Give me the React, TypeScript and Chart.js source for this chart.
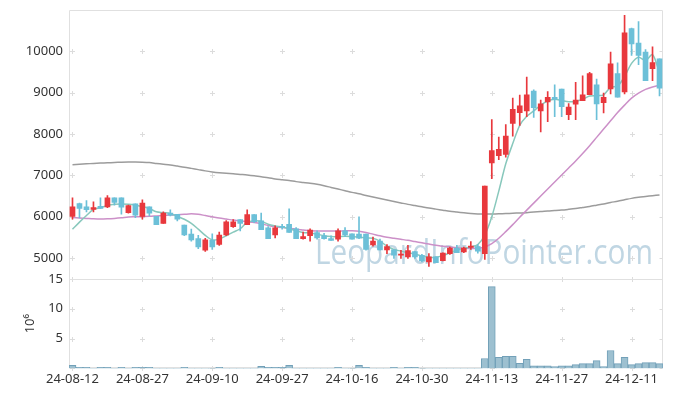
import React, { useEffect, useRef } from 'react';
import { Chart, registerables } from 'chart.js';

Chart.register(...registerables);

const dates = [
  '24-08-12','24-08-13','24-08-14','24-08-16','24-08-19','24-08-20','24-08-21','24-08-22','24-08-23','24-08-26',
  '24-08-27','24-08-28','24-08-29','24-08-30','24-09-02','24-09-03','24-09-04','24-09-05','24-09-06','24-09-09',
  '24-09-10','24-09-11','24-09-12','24-09-13','24-09-19','24-09-20','24-09-23','24-09-24','24-09-25','24-09-26',
  '24-09-27','24-09-30','24-10-02','24-10-04','24-10-07','24-10-08','24-10-10','24-10-11','24-10-14','24-10-15',
  '24-10-16','24-10-17','24-10-18','24-10-21','24-10-22','24-10-23','24-10-24','24-10-25','24-10-28','24-10-29',
  '24-10-30','24-10-31','24-11-01','24-11-04','24-11-05','24-11-06','24-11-07','24-11-08','24-11-11','24-11-12',
  '24-11-13','24-11-14','24-11-15','24-11-18','24-11-19','24-11-20','24-11-21','24-11-22','24-11-25','24-11-26',
  '24-11-27','24-11-28','24-11-29','24-12-02','24-12-03','24-12-04','24-12-05','24-12-06','24-12-09','24-12-10',
  '24-12-11','24-12-12','24-12-13','24-12-16','24-12-17',
];

const opens = [
  6010,6320,6240,6180,6250,6240,6460,6460,6100,6310,
  6010,6240,6010,5840,6090,6060,5800,5580,5470,5190,
  5430,5330,5560,5760,5930,5810,6050,5900,5730,5560,
  5770,5820,5710,5470,5540,5620,5540,5470,5460,5660,
  5590,5580,5580,5320,5410,5200,5200,5070,5030,5160,
  5070,4910,5030,4940,5110,5240,5150,5260,5280,5110,
  7300,7480,7510,8260,8520,8560,9040,8560,8780,8890,
  9090,8470,8720,8810,8950,9190,8760,9090,9460,9020,
  10550,10200,9980,9580,9820,
];
const highs = [
  6460,6330,6390,6360,6460,6510,6460,6460,6280,6310,
  6410,6240,6010,6120,6170,6060,5800,5700,5550,5480,
  5590,5630,5910,5930,5930,6170,6050,6090,5760,5780,
  5820,6190,5740,5630,5710,5660,5600,5540,5710,5740,
  5590,6000,5580,5510,5460,5330,5200,5190,5310,5160,
  5090,5110,5030,5130,5270,5310,5270,5400,5330,6740,
  8350,7930,8230,8870,8940,9380,9070,8820,9030,9190,
  9090,8740,9250,9410,9490,9330,8990,9980,9720,10870,
  10560,10720,10040,10110,9820,
];
const lows = [
  5940,5970,6120,6120,6200,6220,6280,6060,6090,5980,
  5940,6020,5810,5840,6020,5900,5540,5410,5230,5160,
  5210,5310,5540,5740,5660,5810,5860,5690,5470,5490,
  5700,5620,5470,5460,5410,5460,5460,5430,5410,5520,
  5460,5470,5190,5290,5200,5110,4990,4990,4990,4990,
  4910,4800,4890,4930,5090,5130,5130,5210,5120,4970,
  6920,7380,7440,7950,8210,8420,8400,8050,8300,8420,
  8420,8350,8350,8810,8950,8350,8510,8970,8890,8970,
  9900,9680,9290,9290,8920,
];
const closes = [
  6240,6200,6170,6220,6200,6460,6350,6230,6270,6040,
  6330,6090,5810,6090,6040,5940,5560,5440,5270,5440,
  5270,5560,5880,5880,5840,6050,5880,5690,5470,5730,
  5740,5620,5470,5520,5680,5490,5470,5430,5660,5560,
  5460,5480,5210,5410,5200,5280,5070,5100,5180,5030,
  4930,5030,4890,5120,5240,5130,5240,5290,5170,6740,
  7600,7630,7950,8600,8680,8950,8640,8730,8890,8840,
  8660,8650,8820,8950,9460,8730,8890,9700,8890,10450,
  10180,9900,9290,9730,9110,
];

// trading volume in millions of shares
const volumes = [
  0.5,0.2,0.2,0,0.2,0.2,0,0.2,0,0.2,
  0.2,0.2,0,0,0,0,0.2,0,0,0,
  0,0.2,0,0,0,0,0,0.35,0.2,0.2,
  0.2,0.5,0,0,0,0,0,0,0.2,0,
  0,0.5,0.17,0,0,0,0.2,0,0.2,0.2,
  0,0,0,0,0,0,0,0,0,1.65,
  13.7,1.85,2.0,2.0,0.85,1.5,0.45,0.45,0.45,0.3,
  0.45,0.45,0.62,0.8,0.8,1.3,0.3,3.0,0.8,1.85,
  0.62,0.8,0.98,0.98,0.8,
];

const ma5 = [
  5700,5870,6030,6180,6220,6270,6300,6310,6300,6280,
  6250,6200,6120,6100,6080,6010,5940,5840,5700,5550,
  5440,5460,5540,5630,5710,5870,5900,5890,5820,5780,
  5750,5710,5660,5620,5610,5580,5540,5520,5520,5530,
  5520,5510,5490,5480,5410,5290,5210,5170,5130,5100,
  5050,5020,5020,5060,5130,5190,5240,5270,5330,5560,
  6000,6620,7280,7770,8210,8430,8560,8700,8800,8840,
  8810,8780,8790,8840,8920,8930,8950,9130,9160,9390,
  9710,9860,9780,9920,9480,
];
const ma20 = [
  5980,5970,5960,5950,5945,5950,5960,5975,5995,6000,
  6005,6010,6020,6030,6040,6050,6060,6070,6060,6030,
  6000,5970,5945,5920,5900,5880,5860,5830,5790,5760,
  5740,5725,5700,5680,5660,5655,5655,5655,5655,5660,
  5660,5650,5620,5580,5540,5505,5480,5455,5430,5400,
  5370,5340,5310,5290,5270,5250,5240,5235,5240,5270,
  5350,5480,5640,5810,5990,6160,6330,6500,6670,6840,
  7010,7180,7350,7530,7720,7920,8120,8320,8520,8700,
  8870,8990,9080,9140,9180,
];
const ma120 = [
  7257,7270,7280,7290,7298,7305,7312,7320,7325,7325,
  7320,7310,7290,7270,7250,7225,7200,7170,7140,7110,
  7085,7065,7050,7040,7025,7010,6990,6965,6945,6915,
  6895,6875,6850,6830,6810,6785,6750,6710,6670,6630,
  6590,6555,6515,6478,6440,6405,6370,6335,6300,6270,
  6240,6210,6185,6160,6135,6115,6095,6078,6068,6065,
  6068,6072,6078,6085,6092,6100,6115,6125,6140,6150,
  6162,6180,6200,6225,6250,6280,6310,6345,6375,6410,
  6445,6470,6490,6510,6527,
];

const priceTicks = [5000, 6000, 7000, 8000, 9000, 10000];
const volumeTicks = [0, 5, 10, 15];
const volumeLabelTicks = [5, 10, 15];
const xLabelEvery = 10;
const watermarkText = 'LeopardInfoPointer.com';
const volumeUnitLabel = '10⁶';

const UP = '#e8383d';
const DOWN = '#6cc0d8';
const FONT = '"Noto Sans", "DejaVu Sans", sans-serif';

const crossPlugin = {
  id: 'crossGrid',
  beforeDatasetsDraw(chart: any) {
    const { ctx, chartArea, scales } = chart;
    const xs = scales.x;
    const xPositions: number[] = [];
    for (let i = 0; i < dates.length; i += xLabelEvery) xPositions.push(xs.getPixelForValue(i));
    const ys: number[] = [];
    priceTicks.forEach((v) => ys.push(scales.y.getPixelForValue(v)));
    volumeTicks.forEach((v) => ys.push(scales.v.getPixelForValue(v)));
    ctx.save();
    ctx.strokeStyle = '#dcdcdc';
    ctx.lineWidth = 1;
    ctx.beginPath();
    for (const x of xPositions) {
      for (const y of ys) {
        const px = Math.round(x) + 0.5;
        const py = Math.round(y) + 0.5;
        ctx.moveTo(px - 2.5, py);
        ctx.lineTo(px + 2.5, py);
        ctx.moveTo(px, py - 2.5);
        ctx.lineTo(px, py + 2.5);
      }
    }
    for (const y of ys) {
      const py = Math.round(y) + 0.5;
      const rx = Math.round(chartArea.right) - 0.5;
      ctx.moveTo(rx - 3, py);
      ctx.lineTo(rx, py);
    }
    ctx.stroke();
    // borders
    ctx.strokeStyle = '#e0e0e0';
    ctx.beginPath();
    const l = Math.round(chartArea.left) + 0.5;
    const r = Math.round(chartArea.right) - 0.5;
    const t = Math.round(chartArea.top) + 0.5;
    const b = Math.round(chartArea.bottom) - 0.5;
    const mid = Math.round(scales.v.top) + 0.5;
    ctx.moveTo(l, t); ctx.lineTo(r, t); ctx.lineTo(r, b); ctx.lineTo(l, b); ctx.lineTo(l, t);
    ctx.moveTo(l, mid); ctx.lineTo(r, mid);
    ctx.stroke();
    ctx.restore();
  },
};

const watermarkPlugin = {
  id: 'watermark',
  beforeDatasetsDraw(chart: any) {
    const { ctx, chartArea, scales } = chart;
    ctx.save();
    ctx.font = `34px "Open Sans", "Noto Sans", sans-serif`;
    const w = ctx.measureText(watermarkText).width;
    const targetW = 338;
    const right = chartArea.right - 10;
    const base = scales.y.bottom - 15;
    ctx.translate(right - targetW, base);
    ctx.scale(targetW / w, 1);
    ctx.fillStyle = 'rgba(168, 198, 216, 0.72)';
    ctx.textBaseline = 'alphabetic';
    ctx.fillText(watermarkText, 0, 0);
    ctx.restore();
  },
};

const fitLeft = (s: any) => {
  s.width = 61;
  s.paddingTop = 0;
  s.paddingBottom = 0;
};

export default function App() {
  const ref = useRef<HTMLCanvasElement | null>(null);

  useEffect(() => {
    if (!ref.current) return;
    const colors = dates.map((_, i) => (closes[i] >= opens[i] ? UP : DOWN));
    const tickFont = { family: FONT, size: 13 };
    const chart = new Chart(ref.current, {
      type: 'bar',
      data: {
        labels: dates,
        datasets: [
          {
            type: 'line', label: 'MA120', data: ma120, yAxisID: 'y', order: 5,
            borderColor: '#9c9c9c', borderWidth: 1.5, pointRadius: 0, tension: 0.3,
          },
          {
            type: 'line', label: 'MA20', data: ma20, yAxisID: 'y', order: 4,
            borderColor: '#cc90c8', borderWidth: 1.5, pointRadius: 0, tension: 0.3,
          },
          {
            type: 'line', label: 'MA5', data: ma5, yAxisID: 'y', order: 3,
            borderColor: '#88c8bc', borderWidth: 1.5, pointRadius: 0, tension: 0.3,
          },
          {
            type: 'bar', label: 'wick', data: dates.map((_, i) => [lows[i], highs[i]]), yAxisID: 'y', order: 1,
            backgroundColor: colors, barThickness: 1, grouped: false,
          },
          {
            type: 'bar', label: 'body', data: dates.map((_, i) => [opens[i], closes[i]]), yAxisID: 'y', order: 0,
            backgroundColor: colors, barThickness: 5, grouped: false, minBarLength: 1,
          },
          {
            type: 'bar', label: 'volume', data: volumes, yAxisID: 'v', order: 1,
            backgroundColor: '#9dc0d0', borderColor: '#72a0b8',
            borderWidth: volumes.map((v) => (v > 0 ? 1 : 0)),
            barPercentage: 1, categoryPercentage: 1, grouped: false,
          },
        ] as any,
      },
      options: {
        animation: false,
        responsive: true,
        maintainAspectRatio: false,
        layout: { padding: { top: 2, right: 2, left: 0, bottom: 0 } },
        plugins: { legend: { display: false }, tooltip: { enabled: false } },
        scales: {
          x: {
            type: 'category',
            offset: true,
            grid: { display: false, drawTicks: false },
            border: { display: false },
            ticks: {
              autoSkip: false, maxRotation: 0, minRotation: 0, padding: 3,
              color: '#333', font: tickFont,
              callback: (_v: any, i: number) => (i % xLabelEvery === 0 ? dates[i] : ''),
            },
          },
          v: {
            type: 'linear',
            position: 'left',
            stack: 'panes',
            stackWeight: 1,
            min: 0,
            max: 15,
            grid: { display: false, drawTicks: false },
            border: { display: false },
            afterBuildTicks: (s: any) => { s.ticks = volumeLabelTicks.map((v) => ({ value: v })); },
            afterFit: fitLeft,
            ticks: { padding: 6, color: '#333', font: tickFont, callback: (v: any) => String(v) },
            title: {
              display: true, text: volumeUnitLabel, color: '#333',
              font: { family: FONT, size: 13 }, padding: { top: 14, bottom: 0 },
            },
          },
          y: {
            type: 'linear',
            position: 'left',
            stack: 'panes',
            stackWeight: 3,
            min: 4500,
            max: 11000,
            grid: { display: false, drawTicks: false },
            border: { display: false },
            afterBuildTicks: (s: any) => { s.ticks = priceTicks.map((v) => ({ value: v })); },
            afterFit: fitLeft,
            ticks: { padding: 6, color: '#333', font: tickFont, callback: (v: any) => String(v) },
          },
        } as any,
      },
      plugins: [watermarkPlugin, crossPlugin],
    } as any);
    return () => chart.destroy();
  }, []);

  return (
    <div style={{ position: 'relative', width: '657px', height: '382px' }}>
      <canvas ref={ref} />
    </div>
  );
}
